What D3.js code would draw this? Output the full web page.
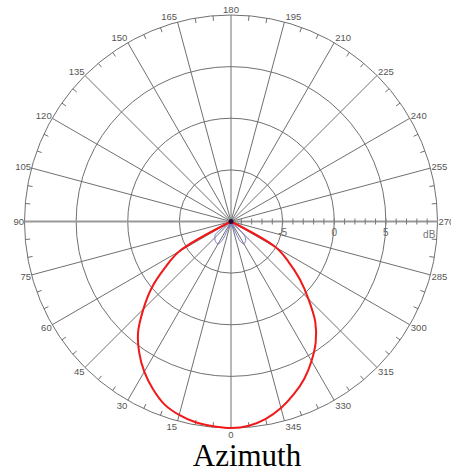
<!DOCTYPE html>
<html><head><meta charset="utf-8">
<script src="https://cdn.jsdelivr.net/npm/d3@7"></script>
<style>html,body{margin:0;padding:0;background:#fff;}</style>
</head><body>
<svg id="chart" width="451" height="472"></svg>
<script>
// ---- data ----
const angleTicks = [0,15,30,45,60,75,90,105,120,135,150,165,180,195,210,225,240,255,270,285,300,315,330,345];
const ringValues = [-5, 0, 5, 10];
const ringLabels = ["-5", "0", "5"];
const radialUnit = "dB";
const title = "Azimuth";
// main (co-polar) pattern, azimuth in degrees, level in dB
const redAz = [295,300,305,310,315,320,325,330,335,340,345,350,355,0,5,10,15,20,25,30,35,40,45,50,55,60,65];
const redDb = [-10,-5.0,-3.2,-1.3,0.6,2.7,4.3,5.6,6.8,7.8,8.7,9.4,9.85,10,9.9,9.75,9.4,8.85,7.9,6.8,5.5,4.0,2.0,0.05,-2.2,-4.2,-10];
// secondary (cross-polar) pattern
const blueAz = [310,315,320,325,330,335,340,345,350,355,0,5,10,15,20,25,30,35,40,45,50,55];
const blueDb = [-10,-8.3,-7.8,-7.6,-7.5,-7.9,-10,-10,-10,-10,-9.5,-10,-10,-10,-10,-8.0,-7.5,-7.5,-7.6,-7.8,-8.0,-10];

// ---- layout ----
const CX = 231, CY = 221.5, R = 206.5;
const svg = d3.select("#chart");
const g = svg.append("g").attr("transform", `translate(${CX},${CY})`);
const rScale = d3.scaleLinear().domain([-10, 10]).range([0, R]);
const aScale = d3.scaleLinear().domain([0, 360]).range([Math.PI, 3 * Math.PI]);
const pt = (az, r) => { const a = aScale(az); return [r * Math.sin(a), -r * Math.cos(a)]; };
const gridColor = "#707070";

// rings
g.selectAll("circle.ring").data(ringValues).enter().append("circle")
  .attr("r", d => rScale(d)).attr("fill", "none")
  .attr("stroke", gridColor).attr("stroke-width", 1);

// spokes
g.selectAll("line.spoke").data(angleTicks.filter(a => a !== 90 && a !== 270)).enter().append("line")
  .attr("x1", 0).attr("y1", 0)
  .attr("x2", d => pt(d, R)[0]).attr("y2", d => pt(d, R)[1])
  .attr("stroke", gridColor).attr("stroke-width", 1);

// horizontal axis (90-270)
g.append("line").attr("x1", pt(90, R)[0]).attr("y1", 0).attr("x2", pt(270, R)[0]).attr("y2", 0)
  .attr("stroke", "#999").attr("stroke-width", 2.2);

// minor angle ticks on outer ring every 5 deg
const minor = d3.range(0, 360, 5).filter(a => a % 15 !== 0);
g.selectAll("line.mtick").data(minor).enter().append("line")
  .attr("x1", d => pt(d, R)[0]).attr("y1", d => pt(d, R)[1])
  .attr("x2", d => pt(d, R - 5)[0]).attr("y2", d => pt(d, R - 5)[1])
  .attr("stroke", gridColor).attr("stroke-width", 1);

// radial axis ticks along 270 direction
const dbTicks = d3.range(-9, 10, 1);
g.selectAll("line.rtick").data(dbTicks).enter().append("line")
  .attr("x1", d => pt(270, rScale(d))[0]).attr("x2", d => pt(270, rScale(d))[0])
  .attr("y1", -3).attr("y2", 3)
  .attr("stroke", "#777").attr("stroke-width", 1);

const labelFont = "'Liberation Sans', Arial, sans-serif";
// radial labels
g.selectAll("text.rl").data(ringLabels).enter().append("text")
  .attr("x", d => pt(270, rScale(+d))[0]).attr("y", 14)
  .attr("text-anchor", "middle").attr("font-family", labelFont).attr("font-size", 10)
  .attr("fill", "#666").text(d => d);
g.append("text").attr("x", pt(270, rScale(9.2))[0]).attr("y", 16)
  .attr("text-anchor", "middle").attr("font-family", labelFont).attr("font-size", 10)
  .attr("fill", "#777").text(radialUnit);

// angle labels
g.selectAll("text.al").data(angleTicks).enter().append("text")
  .each(function(d) {
    const [x, y] = pt(d, R);
    const ux = x / R, uy = y / R;
    d3.select(this)
      .attr("x", x + (Math.abs(ux) < 0.01 ? 0 : (ux < 0 ? -0.5 : 1)))
      .attr("y", y + 3.5 + 6 * uy)
      .attr("text-anchor", Math.abs(ux) < 0.01 ? "middle" : (ux < 0 ? "end" : "start"));
  })
  .attr("font-family", labelFont).attr("font-size", 9.5).attr("fill", "#555")
  .text(d => d);

// series
const line = d3.lineRadial().angle(d => aScale(d[0])).radius(d => rScale(d[1]))
  .curve(d3.curveCatmullRom.alpha(0.5));
g.append("path").datum(blueAz.map((a, i) => [a, blueDb[i]]))
  .attr("d", line).attr("fill", "none").attr("stroke", "#7a7ad0").attr("stroke-width", 1);
g.append("path").datum(redAz.map((a, i) => [a, redDb[i]]))
  .attr("d", line).attr("fill", "none").attr("stroke", "#f01818").attr("stroke-width", 2);
g.append("circle").attr("r", 2.5).attr("fill", "#2a0a3a");

// title
svg.append("text").attr("x", 247).attr("y", 466).attr("text-anchor", "middle")
  .attr("font-family", "'Liberation Serif', 'Times New Roman', serif").attr("font-size", 31)
  .attr("fill", "#000").text(title);
</script>
</body></html>
